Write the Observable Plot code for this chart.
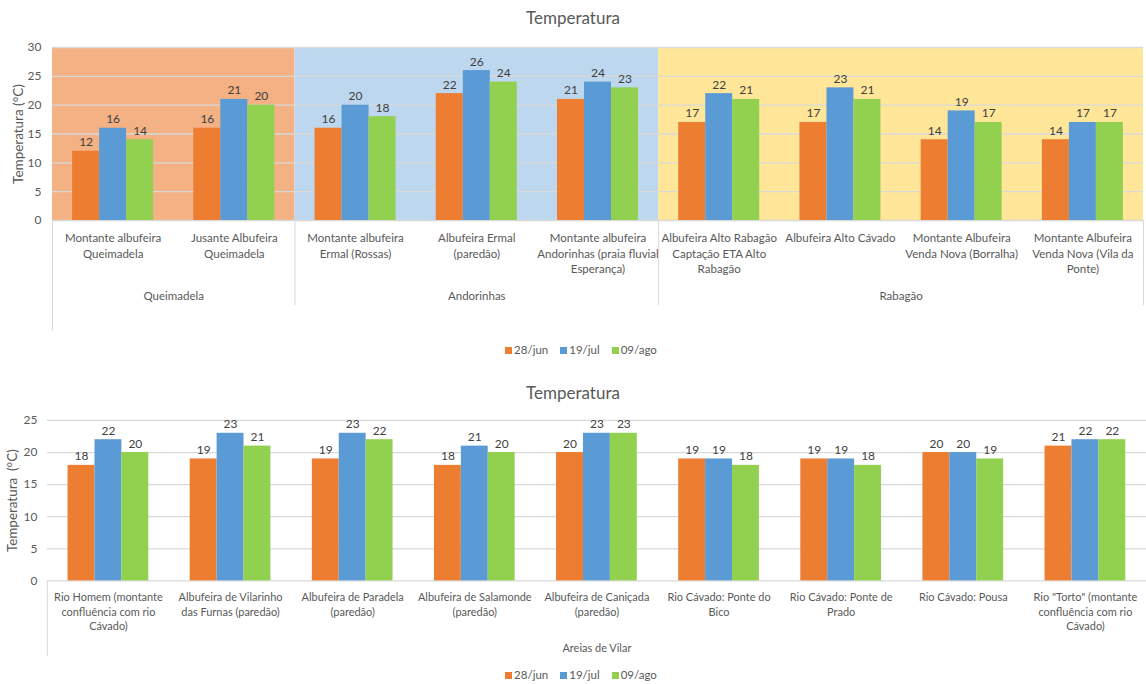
<!DOCTYPE html>
<html><head><meta charset="utf-8">
<script src="https://cdn.jsdelivr.net/npm/d3@7"></script>
<script src="https://cdn.jsdelivr.net/npm/@observablehq/plot@0.6"></script>
<style>
body{margin:0;background:#fff;font-family:Lato,"Open Sans",sans-serif;}
#wrap{position:relative;width:1146px;height:684px;overflow:hidden;background:#fff}
.title{position:absolute;left:0;width:1146px;text-align:center;font-size:17px;color:#595959;line-height:20px}
.legend{position:absolute;left:8px;width:1146px;display:flex;justify-content:center;font-size:11.5px;color:#595959;line-height:14px}
.legend .it{display:flex;align-items:center;margin:0 6px}
.legend .sw{width:7px;height:7px;margin-right:2px}
.chart{position:absolute;left:0}
</style></head>
<body><div id="wrap">
<div class="title" style="top:8px">Temperatura</div>
<div class="chart" id="c1" style="top:30px"></div>
<div class="legend" id="l1" style="top:343px"></div>
<div class="title" style="top:383px">Temperatura</div>
<div class="chart" id="c2" style="top:405px"></div>
<div class="legend" id="l2" style="top:668px"></div>
</div>
<script>
const series = ["28/jun", "19/jul", "09/ago"];
const seriesColors = ["#ED7D31", "#5B9BD5", "#92D050"];

const topLabels = [
  "Montante albufeira\nQueimadela",
  "Jusante Albufeira\nQueimadela",
  "Montante albufeira\nErmal (Rossas)",
  "Albufeira Ermal\n(paredão)",
  "Montante albufeira\nAndorinhas (praia fluvial\nEsperança)",
  "Albufeira Alto Rabagão\nCaptação ETA Alto\nRabagão",
  "Albufeira Alto Cávado",
  "Montante Albufeira\nVenda Nova (Borralha)",
  "Montante Albufeira\nVenda Nova (Vila da\nPonte)"
];
const topGroups = ["Queimadela", "Queimadela", "Andorinhas", "Andorinhas", "Andorinhas", "Rabagão", "Rabagão", "Rabagão", "Rabagão"];
const topJun = [12, 16, 16, 22, 21, 17, 17, 14, 14];
const topJul = [16, 21, 20, 26, 24, 22, 23, 19, 17];
const topAgo = [14, 20, 18, 24, 23, 21, 21, 17, 17];
const groupFills = {"Queimadela": "#F4B183", "Andorinhas": "#BDD7EE", "Rabagão": "#FFE699"};

const botLabels = [
  "Rio Homem (montante\nconfluência com rio\nCávado)",
  "Albufeira de Vilarinho\ndas Furnas (paredão)",
  "Albufeira de Paradela\n(paredão)",
  "Albufeira de Salamonde\n(paredão)",
  "Albufeira de Caniçada\n(paredão)",
  "Rio Cávado: Ponte do\nBico",
  "Rio Cávado: Ponte de\nPrado",
  "Rio Cávado: Pousa",
  "Rio \"Torto\" (montante\nconfluência com rio\nCávado)"
];
const botGroups = ["Areias de Vilar", "Areias de Vilar", "Areias de Vilar", "Areias de Vilar", "Areias de Vilar", "Areias de Vilar", "Areias de Vilar", "Areias de Vilar", "Areias de Vilar"];
const botJun = [18, 19, 19, 18, 20, 19, 19, 20, 21];
const botJul = [22, 23, 23, 21, 23, 19, 19, 20, 22];
const botAgo = [20, 21, 22, 20, 23, 18, 18, 19, 22];

function makeChart(o) {
  const n = o.labels.length;
  const plotW = o.width - o.ml - o.mr;
  const plotH = o.height - o.mt - o.mb;
  const f = 27 / (plotW / n);
  const ticks = d3.range(0, o.yMax + 1, 5);
  const spans = [];
  o.groups.forEach((g, i) => {
    const last = spans[spans.length - 1];
    if (last && last.g === g) last.end = i + 1; else spans.push({g, start: i, end: i + 1});
  });
  const marks = [];
  if (o.groupFills) {
    marks.push(Plot.rectY(spans, {x1: d => d.start, x2: d => d.end, y1: 0, y2: o.yMax, fill: d => o.groupFills[d.g]}));
  }
  marks.push(Plot.ruleY(ticks, {stroke: "#D9D9D9", strokeWidth: 1.3}));
  o.values.forEach((vals, k) => {
    marks.push(Plot.rectY(vals, {x1: (d, i) => i + 0.5 + (k - 1.5) * f, x2: (d, i) => i + 0.5 + (k - 0.5) * f, y1: 0, y2: d => d, fill: seriesColors[k]}));
    marks.push(Plot.text(vals, {x: (d, i) => i + 0.5 + (k - 1) * f, y: d => d, text: d => String(d), lineAnchor: "bottom", dy: -5, fill: "#404040", fontSize: 12}));
  });
  marks.push(Plot.axisY({ticks, tickSize: 0, tickPadding: o.tickPad, fontSize: 12, color: "#595959", label: null}));
  marks.push(Plot.text(o.labels, {x: (d, i) => i + 0.5, frameAnchor: "bottom", lineAnchor: "top", dy: o.labDy, lineHeight: o.lineH, fontSize: o.labFont, fill: "#595959"}));
  marks.push(Plot.text(spans, {x: d => (d.start + d.end) / 2, text: d => d.g, frameAnchor: "bottom", lineAnchor: "middle", dy: o.groupDy, fontSize: o.labFont, fill: "#595959"}));
  marks.push(Plot.ruleX([0], {stroke: "#D9D9D9", insetTop: plotH, insetBottom: -o.axisExt}));
  if (o.sepExt) {
    const seps = spans.slice(1).map(s => s.start).concat([n]);
    marks.push(Plot.ruleX(seps, {stroke: "#D9D9D9", insetTop: plotH, insetBottom: -o.sepExt}));
  }
  marks.push(Plot.text([o.yLabel], {frameAnchor: "left", textAnchor: "middle", rotate: -90, dx: o.yLabDx, fontSize: 13.5, fill: "#595959"}));
  return Plot.plot({
    width: o.width, height: o.height,
    marginLeft: o.ml, marginRight: o.mr, marginTop: o.mt, marginBottom: o.mb,
    x: {domain: [0, n], axis: null},
    y: {domain: [0, o.yMax], axis: null},
    style: {fontFamily: "Lato, 'Open Sans', sans-serif", background: "transparent", overflow: "visible"},
    marks
  });
}

document.getElementById("c1").appendChild(makeChart({
  labels: topLabels, groups: topGroups, groupFills, values: [topJun, topJul, topAgo],
  yMax: 30, width: 1146, height: 305, ml: 52, mr: 3, mt: 17, mb: 115,
  tickPad: 11, labDy: 11, lineH: 1.33, labFont: 11.5, groupDy: 76, axisExt: 110, sepExt: 85,
  yLabel: "Temperatura (°C)", yLabDx: -34
}));
document.getElementById("c2").appendChild(makeChart({
  labels: botLabels, groups: botGroups, groupFills: null, values: [botJun, botJul, botAgo],
  yMax: 25, width: 1150, height: 257, ml: 47, mr: 0, mt: 15, mb: 81,
  tickPad: 10, labDy: 10, lineH: 1.32, labFont: 11, groupDy: 68, axisExt: 76, sepExt: 0,
  yLabel: "Temperatura  (°C)", yLabDx: -35
}));

function legend(id) {
  const el = document.getElementById(id);
  series.forEach((s, k) => {
    const it = document.createElement("div"); it.className = "it";
    const sw = document.createElement("span"); sw.className = "sw"; sw.style.background = seriesColors[k];
    const tx = document.createElement("span"); tx.textContent = s;
    it.appendChild(sw); it.appendChild(tx); el.appendChild(it);
  });
}
legend("l1"); legend("l2");
</script>
</body></html>
